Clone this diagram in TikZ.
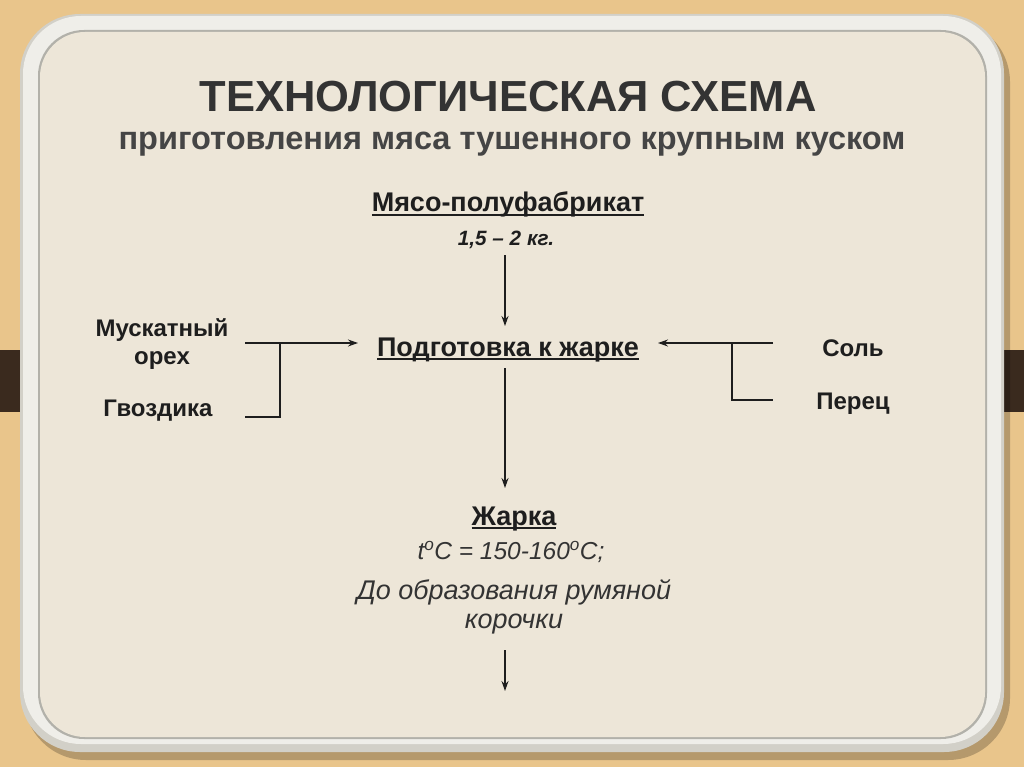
\documentclass[tikz,border=0pt]{standalone}
\usepackage{fontspec}
\setmainfont{Liberation Sans}
\usetikzlibrary{arrows.meta}
\definecolor{wood}{HTML}{E9C58B}
\definecolor{band}{HTML}{3A2A1E}
\definecolor{frameg}{HTML}{D2D0C8}
\definecolor{framehi}{HTML}{EFEEE9}
\definecolor{canvas}{HTML}{EDE6D8}
\definecolor{ink}{HTML}{1E1E1E}
\definecolor{titlec}{HTML}{333333}
\definecolor{subc}{HTML}{454545}
\newcommand\ulin[1]{{\setbox0\hbox{#1}\rlap{\rule[-4pt]{\wd0}{1.8pt}}\box0}}
\begin{document}
\begin{tikzpicture}[x=1pt,y=-1pt,
  lbl/.style={font=\fontsize{24}{28}\selectfont\bfseries, text=ink, align=center, inner sep=0pt},
  head/.style={font=\fontsize{27}{30}\selectfont\bfseries, text=ink, align=center, inner sep=0pt, anchor=base},
  note/.style={font=\fontsize{27}{29}\selectfont\itshape, text=titlec, align=center, inner sep=0pt},
  conn/.style={draw=ink, line width=1.2pt},
  arr/.style={conn, -{Stealth[length=10pt,width=7pt]}}]
\useasboundingbox (0,0) rectangle (1024,767);
% background
\fill[wood] (0,0) rectangle (1024,767);
\fill[band] (0,350) rectangle (40,412);
\fill[band] (984,350) rectangle (1024,412);
% frame
\fill[black, opacity=0.22, rounded corners=62pt] (24,20) rectangle (1010,760);
\fill[frameg, rounded corners=60pt] (20,14) rectangle (1004,752);
\fill[framehi, rounded corners=58pt] (23,16) rectangle (1001,744);
\fill[frameg!85!black, rounded corners=46pt] (38,30) rectangle (987,739);
\fill[canvas, rounded corners=45pt] (40,32) rectangle (985,737);
% title
\node[font=\fontsize{43.5}{48}\selectfont\bfseries, text=titlec, inner sep=0pt, anchor=base] (title) at (508,112) {ТЕХНОЛОГИЧЕСКАЯ СХЕМА};
\node[font=\fontsize{32.5}{36}\selectfont\bfseries, text=subc, inner sep=0pt, anchor=base] (sub) at (512,150) {приготовления мяса тушенного крупным куском};
% nodes
\node[head] (meat) at (508,212) {\ulin{Мясо-полуфабрикат}};
\node[font=\fontsize{20.7}{24}\selectfont\bfseries\itshape, text=ink, inner sep=0pt, anchor=base] (mass) at (506,245) {1,5 – 2 кг.};
\node[head] (prep) at (508,356) {\ulin{Подготовка к жарке}};
\node[lbl] (musk) at (162,344) {Мускатный\\орех};
\node[lbl] (gvoz) at (158,411) {Гвоздика};
\node[lbl] (salt) at (853,348) {Соль};
\node[lbl] (pep) at (853,404) {Перец};
\node[head] (fry) at (514,525) {\ulin{Жарка}};
\node[font=\fontsize{24.5}{29}\selectfont\itshape, text=titlec, inner sep=0pt] (temp) at (511,552) {t\textsuperscript{o}C = 150-160\textsuperscript{o}C;};
\node[note] (crust) at (514,607) {До образования румяной\\корочки};
% connector points
\coordinate (a0) at (505,255);
\coordinate (a1) at (505,326);
\coordinate (b0) at (505,368);
\coordinate (b1) at (505,488);
\coordinate (c0) at (505,650);
\coordinate (c1) at (505,691);
\coordinate (lt) at (245,343);
\coordinate (lh) at (358,343);
\coordinate (lj) at (280,343);
\coordinate (lb) at (245,417);
\coordinate (rt) at (773,343);
\coordinate (rh) at (658,343);
\coordinate (rj) at (732,343);
\coordinate (rb) at (773,400);
% connectors
\draw[arr] (a0) -- (a1);
\draw[arr] (b0) -- (b1);
\draw[arr] (c0) -- (c1);
\draw[arr] (lt) -- (lh);
\draw[conn] (lj) |- (lb);
\draw[arr] (rt) -- (rh);
\draw[conn] (rj) |- (rb);
\end{tikzpicture}
\end{document}
